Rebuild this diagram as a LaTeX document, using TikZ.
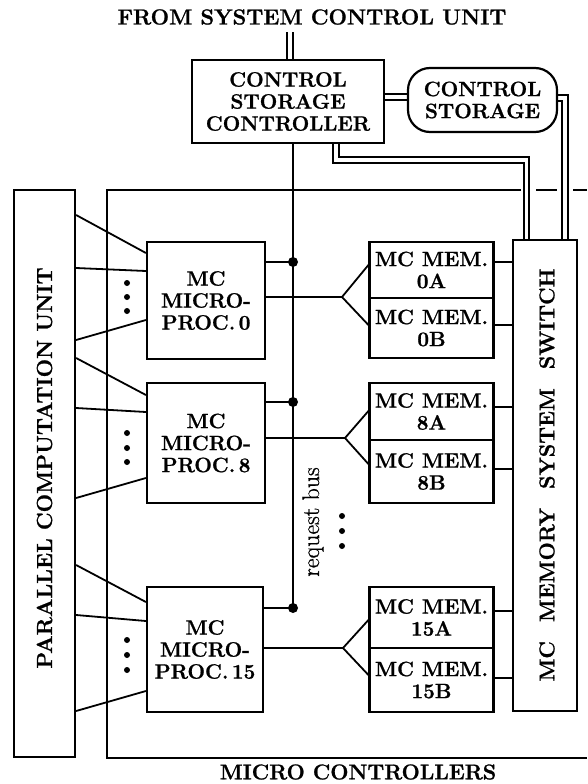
\documentclass[tikz,border=0pt]{standalone}
\usepackage{fontspec}
\setmainfont{Latin Modern Roman}[BoldFeatures={FakeBold=1}]
\usetikzlibrary{calc}
\pgfdeclarelayer{bg}
\pgfdeclarelayer{bgpaper}
\pgfsetlayers{bgpaper,bg,main}
\newcommand\boxfont{\fontsize{20.8}{22}\selectfont\bfseries}
\newcommand\titlefont{\fontsize{21.8}{23}\selectfont\bfseries}
\newcommand\pcufont{\fontsize{21.8}{23}\selectfont\bfseries}
\newcommand\swfont{\fontsize{21.5}{23}\selectfont\bfseries}
\newcommand\busfont{\fontsize{24}{26}\selectfont\addfontfeatures{FakeBold=0.8}}
\newcommand\mcfont{\fontsize{21.5}{22}\selectfont\bfseries}
\tikzset{
  box/.style={draw, line width=2.2pt, inner sep=0pt, align=center, font=\boxfont},
  ln/.style={line width=1.8pt},
  dbl/.style={line width=1.9pt, double=white, double distance=3.4pt},
}
\begin{document}
\begin{tikzpicture}[x=1pt,y=-1pt]
\useasboundingbox (0,0) rectangle (587,784);
\begin{pgfonlayer}{bgpaper}
  \fill[white] (0,0) rectangle (587,784);
\end{pgfonlayer}

% title
\node[font=\titlefont] (title) at (312,17) {FROM SYSTEM CONTROL UNIT};

% control storage controller and control storage
\node[box, minimum width=192pt, minimum height=83pt] (csc) at (288,101.5) {CONTROL\\STORAGE\\CONTROLLER};
\node[box, rounded corners=22pt, minimum width=149pt, minimum height=64pt] (cs) at (482.5,100) {CONTROL\\STORAGE};

% parallel computation unit
\node[box, minimum width=61pt, minimum height=567pt] (pcu) at (44.5,473.5) {};
\node[rotate=90, font=\pcufont] (pcutext) at (44.5,468) {PARALLEL COMPUTATION UNIT};

% micro processors
\node[box, minimum width=118pt, minimum height=117pt] (mp0) at (206,300.5) {MC\\MICRO-\\PROC.\,0};
\node[box, minimum width=118pt, minimum height=120pt] (mp8) at (206,443) {MC\\MICRO-\\PROC.\,8};
\node[box, minimum width=116pt, minimum height=125pt] (mp15) at (205,649.5) {MC\\MICRO-\\PROC.\,15};

% memories
\node[box, minimum width=124pt, minimum height=56pt] (mem0a) at (431.5,270) {MC MEM.\\0A};
\node[box, minimum width=124pt, minimum height=60pt] (mem0b) at (431.5,328) {MC MEM.\\0B};
\node[box, minimum width=124pt, minimum height=57pt] (mem8a) at (431.5,411.5) {MC MEM.\\8A};
\node[box, minimum width=124pt, minimum height=63pt] (mem8b) at (431.5,471.5) {MC MEM.\\8B};
\node[box, minimum width=124pt, minimum height=61pt] (mem15a) at (431.5,617.5) {MC MEM.\\15A};
\node[box, minimum width=124pt, minimum height=64pt] (mem15b) at (431.5,680) {MC MEM.\\15B};

% memory system switch
\node[box, minimum width=64pt, minimum height=471pt] (sw) at (545,475.5) {};
\node[rotate=90, font=\swfont] (swtext) at (547,475) {MC\hspace{19pt}MEMORY\hspace{19pt}SYSTEM\hspace{19pt}SWITCH};

% labels
\node[rotate=90, font=\busfont] (bustext) at (313,522) {request bus};
\node[font=\mcfont] (mctext) at (358,772) {MICRO CONTROLLERS};

\begin{pgfonlayer}{bg}
  % micro controllers enclosure
  \draw[ln, line width=2pt] (521,189.5) -- (107,189.5) -- (107,758) -- (587,758);
  \draw[ln, line width=2pt] (536,189.5) -- (557,189.5);
  \draw[ln, line width=2pt] (573,189.5) -- (587,189.5);
  % double lines
  \draw[dbl] ([yshift=-4pt]title.south -| 290,0) -- (csc.north -| 290,0);
  \draw[dbl] (csc.east |- 0,97) -- (cs.west |- 0,97);
  \draw[dbl] (csc.south -| 336,0) |- (526.5,160) -- (sw.north -| 526.5,0);
  \draw[dbl] ([yshift=2pt]cs.east) -| (sw.north -| 565,0);
\end{pgfonlayer}

% request bus
\coordinate (j0) at (293,262);
\coordinate (j8) at (293,402);
\coordinate (j15) at (293,608);
\draw[ln] (csc.south -| j0) -- (j15);
\foreach \j in {j0,j8,j15} \fill (\j) circle[radius=5pt];
\draw[ln] (mp0.east |- j0) -- (j0);
\draw[ln] (mp8.east |- j8) -- (j8);
\draw[ln] (mp15.east |- j15) -- (j15);

% forks to memories
\coordinate (f0) at (342,297);
\coordinate (f8) at (345,438);
\coordinate (f15) at (343,648);
\draw[ln] (mp0.east |- f0) -- (f0) -- (mem0a.west |- 0,265);
\draw[ln] (f0) -- (mem0b.west |- 0,325);
\draw[ln] (mp8.east |- f8) -- (f8) -- (mem8a.west |- 0,411);
\draw[ln] (f8) -- (mem8b.west |- 0,464);
\draw[ln] (mp15.east |- f15) -- (f15) -- (mem15a.west |- 0,620);
\draw[ln] (f15) -- (mem15b.west |- 0,675);

% memories to switch
\draw[ln] (mem0a.east |- 0,262) -- (sw.west |- 0,262);
\draw[ln] (mem0b.east |- 0,325) -- (sw.west |- 0,325);
\draw[ln] (mem8a.east |- 0,407) -- (sw.west |- 0,407);
\draw[ln] (mem8b.east |- 0,469) -- (sw.west |- 0,469);
\draw[ln] (mem15a.east |- 0,611) -- (sw.west |- 0,611);
\draw[ln] (mem15b.east |- 0,678) -- (sw.west |- 0,678);

% parallel computation unit to micro processors
\draw[ln] (pcu.east |- 0,215) -- (mp0.west |- 0,253);
\draw[ln] (pcu.east |- 0,268) -- (mp0.west |- 0,271);
\draw[ln] (pcu.east |- 0,340) -- (mp0.west |- 0,320);
\draw[ln] (pcu.east |- 0,358) -- (mp8.west |- 0,395);
\draw[ln] (pcu.east |- 0,408) -- (mp8.west |- 0,412);
\draw[ln] (pcu.east |- 0,498) -- (mp8.west |- 0,478);
\draw[ln] (pcu.east |- 0,565) -- (mp15.west |- 0,602);
\draw[ln] (pcu.east |- 0,615) -- (mp15.west |- 0,621);
\draw[ln] (pcu.east |- 0,711) -- (mp15.west |- 0,691);

% ellipsis dots
\foreach \y in {283,297,311,433,448,462,640,655,670} \fill (127,\y) circle[radius=3pt];
\foreach \y in {516,531,546} \fill (342,\y) circle[radius=3pt];
\end{tikzpicture}
\end{document}
